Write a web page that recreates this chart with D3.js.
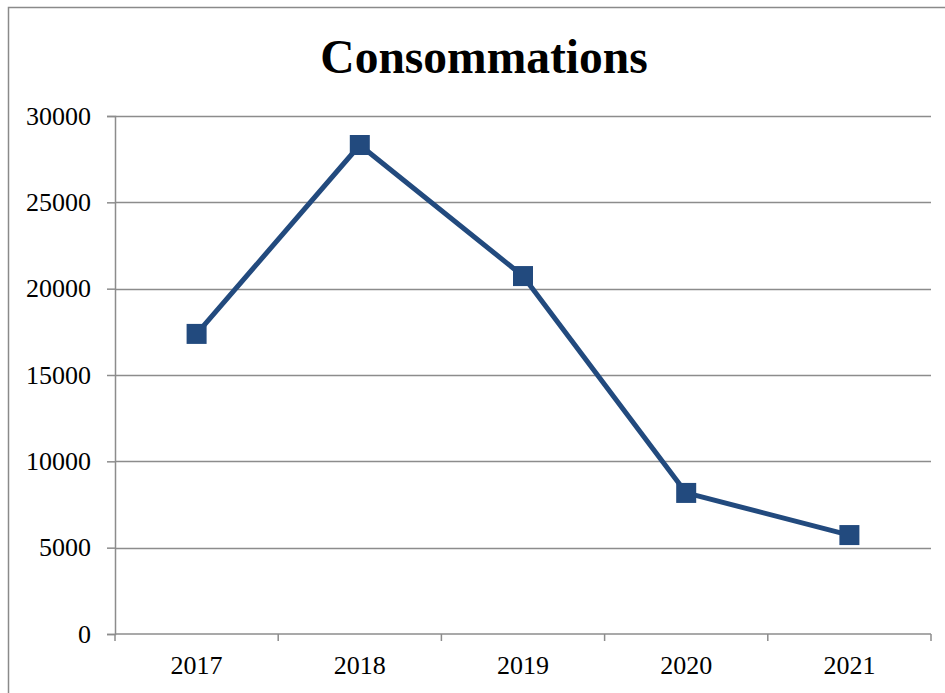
<!DOCTYPE html>
<html>
<head>
<meta charset="utf-8">
<script src="https://cdn.jsdelivr.net/npm/d3@7"></script>
<style>
  html, body { margin: 0; padding: 0; background: #fff; }
  svg { display: block; }
  svg text { font-family: "Times New Roman", "Liberation Serif", Tinos, serif; }
</style>
</head>
<body>
<script>
// Annual consumption figures
const years = ["2017", "2018", "2019", "2020", "2021"];
const consommations = [17380, 28320, 20730, 8170, 5730];
const yTicks = [0, 5000, 10000, 15000, 20000, 25000, 30000];
const title = "Consommations";

const W = 945, H = 693;
const margin = { left: 115, right: 14, top: 116, bottom: 59 };
const lineColor = "#224a7e";
const gridColor = "#8c8c8c";

const svg = d3.select("body").append("svg")
  .attr("width", W).attr("height", H);

// outer chart frame
svg.append("rect")
  .attr("x", 8.5).attr("y", 7.5)
  .attr("width", W + 20).attr("height", H + 20)
  .attr("fill", "none").attr("stroke", "#8a8a8a").attr("stroke-width", 1.5);

svg.append("text")
  .attr("x", 484).attr("y", 73)
  .attr("text-anchor", "middle")
  .attr("font-weight", "bold").attr("font-size", 47.5)
  .text(title);

const x = d3.scaleBand().domain(years)
  .range([margin.left, W - margin.right]).padding(0);
const y = d3.scaleLinear().domain([0, 30000])
  .range([H - margin.bottom, margin.top]);

// horizontal gridlines
svg.append("g").selectAll("line").data(yTicks.filter(d => d > 0)).join("line")
  .attr("x1", margin.left).attr("x2", W - margin.right)
  .attr("y1", d => Math.round(y(d)) + 0.5).attr("y2", d => Math.round(y(d)) + 0.5)
  .attr("stroke", gridColor).attr("stroke-width", 1.5);

// y axis
const yAxis = svg.append("g")
  .attr("transform", `translate(${margin.left},0)`)
  .call(d3.axisLeft(y).tickValues(yTicks).tickSize(8).tickPadding(16).tickFormat(d3.format("d")));
yAxis.attr("font-family", null);
yAxis.selectAll("path, line").attr("stroke", gridColor).attr("stroke-width", 1.5);
yAxis.selectAll("text").attr("font-size", 26).attr("fill", "#000");

// x axis with ticks on category boundaries
const xAxisG = svg.append("g")
  .attr("transform", `translate(0,${y(0)})`);
xAxisG.append("line")
  .attr("x1", margin.left).attr("x2", W - margin.right)
  .attr("stroke", gridColor).attr("stroke-width", 1.5);
const bounds = years.map(d => x(d)).concat([x(years[years.length - 1]) + x.bandwidth()]);
xAxisG.selectAll("line.tick").data(bounds).join("line").attr("class", "tick")
  .attr("x1", d => d).attr("x2", d => d).attr("y1", 0).attr("y2", 7)
  .attr("stroke", gridColor).attr("stroke-width", 1.5);
xAxisG.selectAll("text").data(years).join("text")
  .attr("x", d => x(d) + x.bandwidth() / 2).attr("y", 40)
  .attr("text-anchor", "middle")
  .attr("font-size", 26)
  .text(d => d);

const pts = years.map((d, i) => [x(d) + x.bandwidth() / 2, y(consommations[i])]);

svg.append("path")
  .attr("d", d3.line()(pts))
  .attr("fill", "none").attr("stroke", lineColor).attr("stroke-width", 5)
  .attr("stroke-linejoin", "round");

svg.append("g").selectAll("rect").data(pts).join("rect")
  .attr("x", d => d[0] - 10).attr("y", d => d[1] - 10)
  .attr("width", 20).attr("height", 20)
  .attr("fill", lineColor);
</script>
</body>
</html>
